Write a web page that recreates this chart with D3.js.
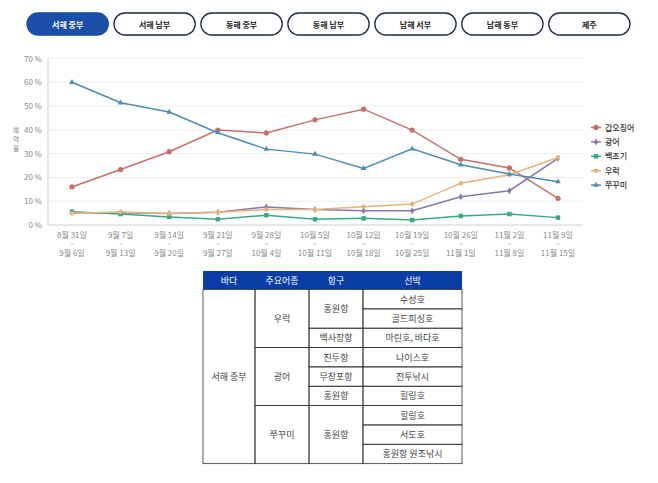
<!DOCTYPE html>
<html><head><meta charset="utf-8">
<script src="https://cdn.jsdelivr.net/npm/d3@7/dist/d3.min.js"></script>
<style>
body{margin:0;background:#fff;}
svg{display:block;font-family:"Noto Sans CJK KR","Noto Sans",sans-serif;}
</style></head><body>
<svg id="c" width="658" height="483"></svg>
<script>
const tabs = ["서해 중부","서해 남부","동해 중부","동해 남부","남해 서부","남해 동부","제주"];
const weekStart = ["8월 31일","9월 7일","9월 14일","9월 21일","9월 28일","10월 5일","10월 12일","10월 19일","10월 26일","11월 2일","11월 9일"];
const weekEnd = ["9월 6일","9월 13일","9월 20일","9월 27일","10월 4일","10월 11일","10월 18일","10월 25일","11월 1일","11월 8일","11월 15일"];
const yTicks = [0,10,20,30,40,50,60,70];
const yLabelChars = ["예","약","율"];
const seriesNames = ["갑오징어","광어","백조기","우럭","쭈꾸미"];
const squid = [16,23.3,30.8,39.9,38.7,44.2,48.7,39.9,27.6,24,11.2];
const flounder = [5.2,5.2,4.8,5.4,7.6,6.5,6,6,11.9,14.4,28];
const croaker = [5.6,4.6,3.4,2.4,4.1,2.4,2.8,2.1,3.8,4.6,3.1];
const rockfish = [4.9,5.5,4.8,5.4,6.5,6.5,7.7,8.8,17.6,21.1,28.4];
const octopus = [60,51.4,47.5,38.8,31.9,29.8,23.8,32,25.3,21.4,18.2];
const tableHeader = ["바다","주요어종","항구","선박"];
const seaName = ["서해 중부"];
const fishGroups = [["우럭",3],["광어",3],["쭈꾸미",3]];
const portGroups = [["홍원항",2],["백사장항",1],["진두항",1],["무창포항",1],["홍원항",1],["홍원항",3]];
const boats = ["수성호","골드피싱호","마린호, 바다호","나이스호","전투낚시","힐링호","힐링호","서도호","홍원항 원조낚시"];

const svg = d3.select("#c");
const colors = ["#c8706c","#8878a6","#3aa988","#e8b27c","#4f8db3"];
const symbols = [d3.symbolCircle,d3.symbolDiamond,d3.symbolSquare,d3.symbolCircle,d3.symbolTriangle];
const symSize = [22,14,20,16,14];
const data = [squid,flounder,croaker,rockfish,octopus];

// tabs
const tabX = d3.scaleBand().domain(tabs).range([27,630]).paddingInner(0.065);
const tg = svg.append("g").selectAll("g").data(tabs).join("g");
tg.append("rect").attr("x",d=>tabX(d)).attr("y",13).attr("width",tabX.bandwidth()).attr("height",22)
  .attr("rx",11).attr("fill",(d,i)=>i===0?"#1a4ea9":"#fff").attr("stroke",(d,i)=>i===0?"#1a4ea9":"#1d2a44").attr("stroke-width",1.3);
tg.append("text").attr("x",d=>tabX(d)+tabX.bandwidth()/2).attr("y",27.5).attr("text-anchor","middle")
  .attr("font-size",8).attr("font-weight",700).attr("fill",(d,i)=>i===0?"#fff":"#222").text(d=>d);

// chart
const x = d3.scalePoint().domain(d3.range(weekStart.length)).range([72,558]);
const y = d3.scaleLinear().domain([0,70]).range([225,58.5]);
const xL = 48, xR = 583;
svg.append("g").selectAll("line").data(yTicks.slice(1)).join("line")
  .attr("x1",xL).attr("x2",xR).attr("y1",d=>y(d)).attr("y2",d=>y(d)).attr("stroke","#eeeeee");
svg.append("line").attr("x1",xL).attr("x2",xL).attr("y1",y(70)).attr("y2",y(0)).attr("stroke","#cfcfcf");
svg.append("line").attr("x1",xL).attr("x2",xR).attr("y1",y(0)).attr("y2",y(0)).attr("stroke","#cfcfcf");
svg.append("g").selectAll("text").data(yTicks).join("text")
  .attr("x",42).attr("y",d=>y(d)+3).attr("text-anchor","end").attr("font-size",8).attr("fill","#8a8a8a").text(d=>d+" %");
// y label vertical (stacked characters)
svg.append("g").selectAll("text").data(yLabelChars).join("text")
  .attr("x",16).attr("y",(d,i)=>133+i*9).attr("text-anchor","middle").attr("font-size",6.5).attr("fill","#888").text(d=>d);

// x labels
const xg = svg.append("g").selectAll("g").data(weekStart).join("g");
xg.append("text").attr("x",(d,i)=>x(i)).attr("y",238).attr("text-anchor","middle").attr("font-size",8).attr("fill","#888").text(d=>d);
xg.append("text").attr("x",(d,i)=>x(i)).attr("y",246).attr("text-anchor","middle").attr("font-size",6).attr("fill","#999").text("~");
xg.append("text").attr("x",(d,i)=>x(i)).attr("y",256).attr("text-anchor","middle").attr("font-size",8).attr("fill","#888").text((d,i)=>weekEnd[i]);

const line = d3.line().x((d,i)=>x(i)).y(d=>y(d));
data.forEach((s,k)=>{
  svg.append("path").attr("d",line(s)).attr("fill","none").attr("stroke",colors[k]).attr("stroke-width",1.5);
  svg.append("g").selectAll("path").data(s).join("path")
    .attr("transform",(d,i)=>`translate(${x(i)},${y(d)})`)
    .attr("d",d3.symbol().type(symbols[k]).size(symSize[k])).attr("fill",colors[k]);
});

// legend
const lg = svg.append("g").selectAll("g").data(seriesNames).join("g")
  .attr("transform",(d,i)=>`translate(596,${127.5+i*14.4})`);
lg.append("line").attr("x1",-5).attr("x2",5).attr("stroke",(d,i)=>colors[i]).attr("stroke-width",1.5);
lg.append("path").attr("d",(d,i)=>d3.symbol().type(symbols[i]).size(symSize[i])()).attr("fill",(d,i)=>colors[i]);
lg.append("text").attr("x",9).attr("y",3).attr("font-size",8).attr("font-weight",500).attr("fill","#333").text(d=>d);

// table
const colX = [203,255,309,363,462];
const rowH = 19.35, tTop = 271, hH = 18.5;
const rowY = i => tTop + hH + i*rowH;
const t = svg.append("g");
t.selectAll("rect.h").data(tableHeader).join("rect")
  .attr("x",(d,i)=>colX[i]).attr("y",tTop).attr("width",(d,i)=>colX[i+1]-colX[i]).attr("height",hH).attr("fill","#0a3ea6");
t.selectAll("text.h").data(tableHeader).join("text")
  .attr("x",(d,i)=>(colX[i]+colX[i+1])/2).attr("y",tTop+12.5).attr("text-anchor","middle").attr("font-size",9).attr("fill","#fff").text(d=>d);
function cells(groups, col){
  let r = 0;
  groups.forEach(([label,n])=>{
    t.append("rect").attr("x",colX[col]).attr("y",rowY(r)).attr("width",colX[col+1]-colX[col]).attr("height",n*rowH)
      .attr("fill","none").attr("stroke","#333").attr("stroke-width",0.8);
    t.append("text").attr("x",(colX[col]+colX[col+1])/2).attr("y",rowY(r)+n*rowH/2+3.5).attr("text-anchor","middle")
      .attr("font-size",9).attr("fill","#444").text(label);
    r += n;
  });
}
cells([[seaName[0],boats.length]],0);
cells(fishGroups,1);
cells(portGroups,2);
cells(boats.map(b=>[b,1]),3);
</script>
</body></html>
